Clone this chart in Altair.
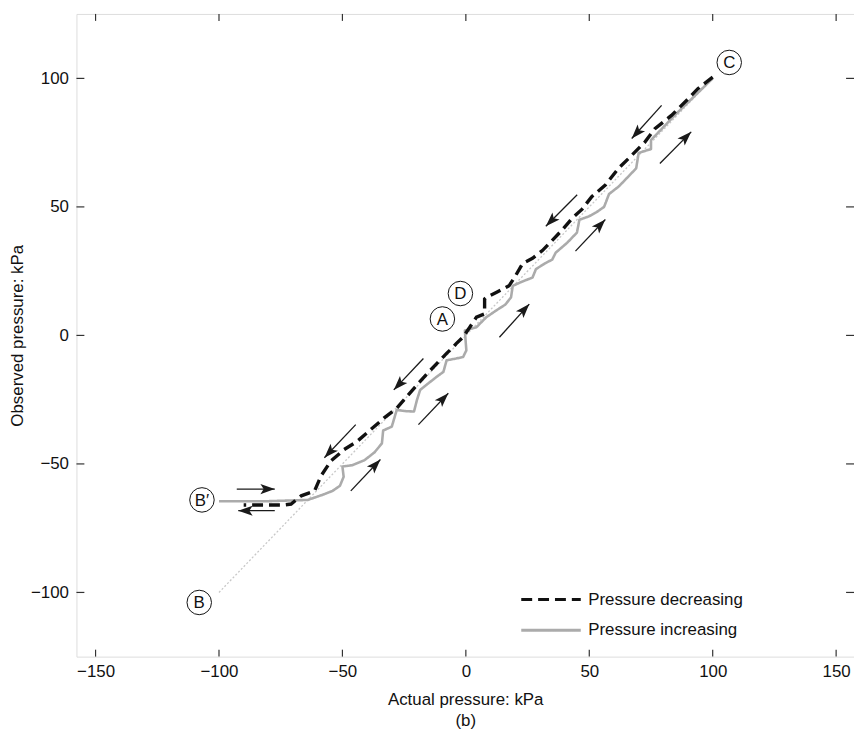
import math
import altair as alt
import pandas as pd

# ---------------- data ----------------
series_names = ["Pressure decreasing", "Pressure increasing"]

# Pressure decreasing (black dashed), from C down to B'
dec_x = [100, 94, 90, 83.3, 76.6, 72.6, 65.9, 61.8, 56.5, 51, 47, 43, 39, 35, 31, 27, 23, 20,
         17.5, 12.3, 8.3, 7.6, 7.6, 4.3, 1.6, -1.1, -3.8, -5.1, -7.8, -11.1, -15.8, -21, -28,
         -33.2, -38.6, -44, -49.3, -54.7, -58.7, -61.3, -66.7, -70.8, -74, -90]
dec_y = [100.5, 96, 92, 85.6, 80.4, 75.3, 68.8, 65, 58.5, 54, 49, 45.5, 41, 37, 33, 30, 28, 23,
         19.3, 16.7, 14.8, 14.2, 8.4, 7.1, 3.2, -0.6, -3.1, -4.5, -7, -10.3, -15, -20.6, -28.3,
         -32.2, -36.7, -41.2, -44.4, -48.9, -54.7, -60.5, -62.4, -65.6, -66, -66]

# Pressure increasing (grey solid), from B' up to C
inc_x = [-100, -80, -64, -58, -54, -51, -49.5, -50, -46, -41, -37, -34, -33.5, -30, -28, -24,
         -21, -19.8, -18.5, -15, -11.8, -9.1, -7.8, -4, -1.1, 0.2, -0.4, 4.3, 8.3, 12.3, 16,
         18.3, 19, 23, 27, 28.4, 32, 35, 36.4, 41, 45, 46, 49.8, 53, 56, 58, 62, 66, 69, 70,
         75, 75, 85, 100]
inc_y = [-64.5, -64.5, -64, -62, -60.5, -58.5, -55, -51, -50.5, -48.5, -45.5, -42, -37, -35.5,
         -29, -29.5, -29.6, -25.1, -21.2, -18.5, -16.1, -14.2, -9.7, -9, -8.4, -5.8, 1.9, 3.2,
         7.1, 9.7, 12, 14.8, 19.3, 21, 22.5, 25.8, 28, 29.5, 32.2, 36, 40, 45, 46.3, 48, 50,
         55, 58, 62, 65, 71, 72.5, 76, 86, 100]

# ideal line B -> C
ideal_x = [-100, 100]
ideal_y = [-100, 100]

# point labels
label_text = ["A", "B", "B\u2032", "C", "D"]
label_x = [-9.5, -108, -106.9, 106.7, -2.2]
label_y = [6.4, -103.9, -64, 106.2, 16.3]

# arrows (tail -> tip)
arrow_x1 = [79.3, 78.6, 45.1, 44.4, 13.6, -17.2, -19.2, -44.6, -46.6, -92.8, -77.4]
arrow_y1 = [89.5, 66.9, 54.7, 32.8, -0.7, -9.0, -34.7, -34.7, -60.5, -59.8, -68.2]
arrow_x2 = [67.2, 91.3, 32.4, 56.5, 25.7, -29.2, -7.1, -57.3, -34.6, -77.4, -92.2]
arrow_y2 = [76.6, 79.2, 42.5, 45.1, 12.2, -21.2, -22.5, -47.6, -48.3, -59.8, -68.2]

x_ticks = [-150, -100, -50, 0, 50, 100, 150]
y_ticks = [-100, -50, 0, 50, 100]

# ---------------- layout ----------------
W, H = 784, 648
XD = [-157.75, 157.24]
YD = [-124.97, 125.08]
FONT = "Liberation Sans"
FS = 17

xs = alt.Scale(domain=XD, nice=False, zero=False)
ys = alt.Scale(domain=YD, nice=False, zero=False)
minus_expr = "datum.value < 0 ? '\u2212' + abs(datum.value) : datum.label"

x_axis = alt.Axis(values=x_ticks, ticks=False, domain=False, grid=False,
                  labelFontSize=FS, labelFont=FONT, labelPadding=7, labelExpr=minus_expr,
                  labelColor="#111", title=["Actual pressure: kPa", "(b)"],
                  titleFontSize=FS, titleFont=FONT, titleFontWeight="normal",
                  titleLineHeight=21, titlePadding=12, titleColor="#111")
y_axis = alt.Axis(values=y_ticks, ticks=False, domain=False, grid=False,
                  labelFontSize=FS, labelFont=FONT, labelPadding=8, labelExpr=minus_expr,
                  labelColor="#111", title="Observed pressure: kPa",
                  titleFontSize=FS, titleFont=FONT, titleFontWeight="normal",
                  titlePadding=4, titleColor="#111")

X = alt.X("x:Q", scale=xs, axis=x_axis)
Y = alt.Y("y:Q", scale=ys, axis=y_axis)

dec_df = pd.DataFrame({"x": dec_x, "y": dec_y, "series": series_names[0],
                       "i": range(len(dec_x))})
inc_df = pd.DataFrame({"x": inc_x, "y": inc_y, "series": series_names[1],
                       "i": range(len(inc_x))})
ideal_df = pd.DataFrame({"x": ideal_x, "y": ideal_y, "i": range(len(ideal_x))})

# stroke symbol drawn wider than its nominal size so rows stay compact
legend = alt.Legend(orient="none", legendX=458, legendY=570, title=None,
                    symbolType="M-1.6,0H1.6", symbolSize=1406, symbolStrokeWidth=3,
                    labelFontSize=FS, labelFont=FONT, labelColor="#111", labelOffset=17,
                    rowPadding=2, padding=0, labelLimit=300)
color = alt.Color("series:N", scale=alt.Scale(domain=series_names, range=["#111111", "#ababab"]),
                  legend=legend)
dash = alt.StrokeDash("series:N", scale=alt.Scale(domain=series_names, range=[[11, 6], [1, 0]]),
                      legend=legend)

ideal = alt.Chart(ideal_df).mark_line(color="#c8c8c8", strokeWidth=1.3,
                                      strokeDash=[2, 2]).encode(x=X, y=Y, order="i:Q")
inc_line = alt.Chart(inc_df).mark_line(strokeWidth=2.6, strokeJoin="round").encode(
    x=X, y=Y, order="i:Q", color=color, strokeDash=dash)
dec_line = alt.Chart(dec_df).mark_line(strokeWidth=3.4).encode(
    x=X, y=Y, order="i:Q", color=color, strokeDash=dash)

# arrows
px_per_x = W / (XD[1] - XD[0])
px_per_y = H / (YD[1] - YD[0])
angles = []
for a, b, c, d in zip(arrow_x1, arrow_y1, arrow_x2, arrow_y2):
    dx = (c - a) * px_per_x
    dy = -(d - b) * px_per_y
    angles.append(math.degrees(math.atan2(dx, -dy)) % 360)
arr_df = pd.DataFrame({"x": arrow_x1, "y": arrow_y1, "x2": arrow_x2, "y2": arrow_y2,
                       "angle": angles})
shafts = alt.Chart(arr_df).mark_rule(color="#1a1a1a", strokeWidth=1.3).encode(
    x=X, y=Y, x2="x2:Q", y2="y2:Q")
heads = alt.Chart(arr_df).mark_point(
    shape="M0,0L0.7,2L0,1.55L-0.7,2Z", filled=True, color="#1a1a1a", opacity=1,
    size=210).encode(x=alt.X("x2:Q", scale=xs, axis=x_axis),
                     y=alt.Y("y2:Q", scale=ys, axis=y_axis),
                     angle=alt.Angle("angle:Q", scale=None))

# labelled points
lab_df = pd.DataFrame({"x": label_x, "y": label_y, "t": label_text})
circles = alt.Chart(lab_df).mark_point(shape="circle", size=610, filled=False,
                                       color="#111", strokeWidth=1, opacity=1).encode(x=X, y=Y)
texts = alt.Chart(lab_df).mark_text(font=FONT, fontSize=FS, color="#111", align="center",
                                    baseline="middle", dy=1).encode(x=X, y=Y, text="t:N")

# inward ticks
xt_df = pd.DataFrame({"x": x_ticks})
yt_df = pd.DataFrame({"y": y_ticks})
tick_style = dict(color="#333", strokeWidth=1.2)
xb = alt.Chart(xt_df).mark_rule(**tick_style).encode(x=X, y=alt.value(H), y2=alt.value(H - 7))
xt = alt.Chart(xt_df).mark_rule(**tick_style).encode(x=X, y=alt.value(0), y2=alt.value(7))
yl = alt.Chart(yt_df).mark_rule(**tick_style).encode(y=Y, x=alt.value(0), x2=alt.value(8))
yr = alt.Chart(yt_df).mark_rule(**tick_style).encode(y=Y, x=alt.value(W), x2=alt.value(W - 8))

chart = alt.layer(
    xb, xt, yl, yr, ideal, inc_line, dec_line, shafts, heads, circles, texts
).properties(
    width=W, height=H,
    autosize=alt.AutoSizeParams(type="none"),
    padding={"left": 69, "top": 3, "right": 0, "bottom": 70},
).configure_view(stroke="#333", strokeWidth=1.2).configure(font=FONT)

chart.save("out.html", embed_options={"renderer": "svg", "actions": False})
